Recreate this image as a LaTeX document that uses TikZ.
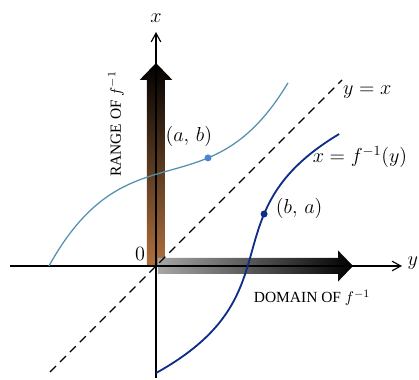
\documentclass[tikz,border=0pt]{standalone}
\usepackage{fontspec}
\setmainfont{Liberation Serif}
\usepackage{amsmath}
\usepackage{xcolor}
\usetikzlibrary{arrows.meta, positioning, calc}

\definecolor{fblue}{RGB}{85,145,175}
\definecolor{finvblue}{RGB}{15,45,135}
\definecolor{dotblue}{RGB}{75,135,205}
\definecolor{rangebrown}{RGB}{175,112,62}
\definecolor{rangedark}{RGB}{62,28,12}

\begin{document}
\begin{tikzpicture}[
  axis/.style={-{Straight Barb[length=2.2mm, width=2.4mm]}, line width=0.8pt},
  diag/.style={dash pattern=on 6pt off 4pt, line width=0.8pt},
  fcurve/.style={fblue, line width=0.9pt},
  finvcurve/.style={finvblue, line width=1.3pt},
  ptdot/.style={circle, inner sep=0pt, minimum size=5pt},
  lab/.style={font=\fontsize{14.5}{17}\selectfont},
  caps/.style={font=\fontsize{11}{13}\selectfont},
  declare function={fcub(\t)=2.4+0.28*(\t-0.375)+0.0544*(\t-0.375)*(\t-0.375)*(\t-0.375);}
]
\useasboundingbox (-3.9,-2.85) rectangle (6.575,6.65);

% Range and domain bands
\shade[top color=black, middle color=rangedark, bottom color=rangebrown]
  (-0.225,0) -- (-0.225,4.65) -- (-0.41,4.65) -- (0,5.075)
  -- (0.41,4.65) -- (0.225,4.65) -- (0.225,0) -- cycle;
\shade[left color=black!35, middle color=black!85, right color=black]
  (0.05,-0.2) -- (4.55,-0.2) -- (4.55,-0.39) -- (4.925,0)
  -- (4.55,0.39) -- (4.55,0.2) -- (0.05,0.2) -- cycle;

% Axes
\coordinate (o) at (0,0);
\coordinate (yleft) at (-3.65,0);
\coordinate (yright) at (6.15,0);
\coordinate (xbot) at (0,-2.8);
\coordinate (xtop) at (0,5.85);
\draw[axis] (yleft) -- (yright);
\draw[axis] (xbot) -- (xtop);
\node[lab] (ylab) at (6.42,0.06) {$y$};
\node[lab] (xlab) at (0,6.2) {$x$};
\node[lab] (zero) at (-0.4,0.3) {$0$};

% Line y = x
\coordinate (dlow) at (-2.65,-2.65);
\coordinate (dhigh) at (4.65,4.65);
\draw[diag] (dlow) -- (dhigh);
\node[lab] (diaglab) at (5.28,4.35) {$y = x$};

% Curves
\draw[fcurve] plot[domain=-2.675:3.3, samples=80] (\x, {fcub(\x)});
\draw[finvcurve] plot[domain=-2.675:3.3, samples=80] ({fcub(\x)}, \x);

% Points
\node[ptdot, fill=dotblue] (pab) at (1.3, {fcub(1.3)}) {};
\node[ptdot, fill=finvblue] (pba) at ({fcub(1.3)}, 1.3) {};
\node[lab] (pablab) at (0.82,3.23) {$(a,\, b)$};
\node[lab] (pbalab) at (3.58,1.45) {$(b,\, a)$};
\node[lab] (finvlab) at (5.1,2.72) {$x = f^{-1}(y)$};

% Domain and range labels
\node[caps] (domlab) at (3.9,-0.8) {DOMAIN OF $f^{-1}$};
\node[caps, rotate=90] (ranlab) at (-1.0,3.55) {RANGE OF $f^{-1}$};

\end{tikzpicture}
\end{document}
